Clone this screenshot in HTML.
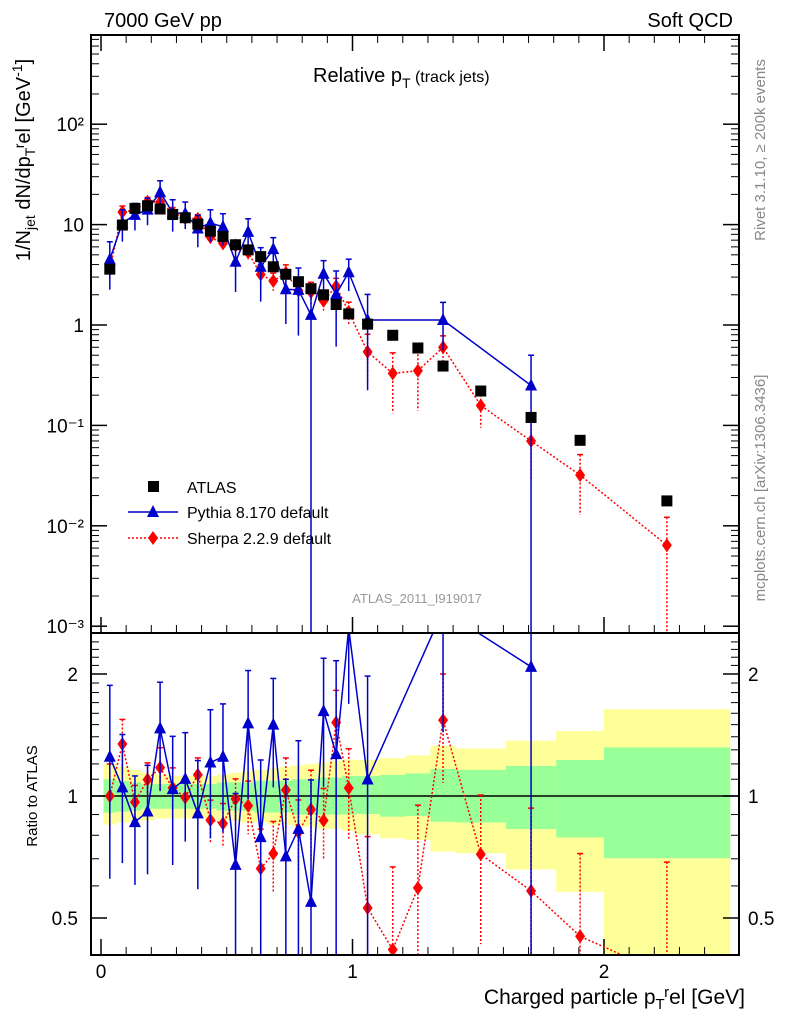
<!DOCTYPE html>
<html><head><meta charset="utf-8">
<style>
html,body{margin:0;padding:0;background:#fff;overflow:hidden;}
svg{display:block;}
svg text{font-family:"Liberation Sans",sans-serif;}
</style></head>
<body>
<svg id="c" width="786" height="1024" xmlns="http://www.w3.org/2000/svg">
<defs>
<clipPath id="mainclip"><rect x="91" y="36" width="648" height="596"/></clipPath>
<clipPath id="ratclip"><rect x="91" y="634" width="648" height="320"/></clipPath>
</defs>
<g id="ratbands" clip-path="url(#ratclip)"></g>
<g id="grid"></g>
<g id="mainmarks" clip-path="url(#mainclip)"></g>
<g id="ratmarks" clip-path="url(#ratclip)"></g>
<rect x="91" y="35" width="648" height="598" fill="none" stroke="#000" stroke-width="2"/>
<rect x="91" y="633" width="648" height="322" fill="none" stroke="#000" stroke-width="2"/>
<text x="104" y="27" font-size="20">7000 GeV pp</text>
<text x="733" y="27" font-size="20" text-anchor="end">Soft QCD</text>
<text x="313" y="82" font-size="20">Relative p<tspan font-size="14" dy="6">T</tspan><tspan font-size="16" dy="-6"> (track jets)</tspan></text>
<text x="417" y="603" font-size="13" fill="#999" text-anchor="middle">ATLAS_2011_I919017</text>
<text transform="translate(765,150) rotate(-90)" font-size="15" fill="#888" text-anchor="middle">Rivet 3.1.10, ≥ 200k events</text>
<text transform="translate(765,488) rotate(-90)" font-size="15" fill="#888" text-anchor="middle">mcplots.cern.ch [arXiv:1306.3436]</text>
<text transform="translate(30,160) rotate(-90)" font-size="20" text-anchor="middle">1/N<tspan font-size="14" dy="5">jet</tspan><tspan dy="-5"> dN/dp</tspan><tspan font-size="14" dy="5">T</tspan><tspan font-size="14" dy="-11">r</tspan><tspan dy="6">el [GeV</tspan><tspan font-size="14" dy="-8">-1</tspan><tspan dy="8">]</tspan></text>
<text transform="translate(37,796) rotate(-90)" font-size="15" text-anchor="middle">Ratio to ATLAS</text>
<text x="745" y="1004" font-size="21" text-anchor="end">Charged particle p<tspan font-size="15" dy="5">T</tspan><tspan font-size="15" dy="-12">r</tspan><tspan dy="7">el [GeV]</tspan></text>
<g>
<rect x="148" y="481" width="11" height="11" fill="#000"/>
<text x="187" y="493" font-size="16">ATLAS</text>
<line x1="128" y1="512" x2="178" y2="512" stroke="#00c" stroke-width="1.5"/>
<polygon points="153,505 159,517 147,517" fill="#00c"/>
<text x="187" y="518" font-size="16">Pythia 8.170 default</text>
<line x1="128" y1="538" x2="178" y2="538" stroke="#f00" stroke-width="1.5" stroke-dasharray="2,2"/>
<polygon points="153,531 158,538 153,545 148,538" fill="#f00"/>
<text x="187" y="544" font-size="16">Sherpa 2.2.9 default</text>
</g>
</svg>
<script>
const xCenters=[0.035,0.085,0.135,0.185,0.235,0.285,0.335,0.385,0.435,0.485,0.535,0.585,0.635,0.685,0.735,0.785,0.835,0.885,0.935,0.985,1.06,1.16,1.26,1.36,1.51,1.71,1.905,2.25];
const binEdges=[0.01,0.06,0.11,0.16,0.21,0.26,0.31,0.36,0.41,0.46,0.51,0.56,0.61,0.66,0.71,0.76,0.81,0.86,0.91,0.96,1.01,1.11,1.21,1.31,1.41,1.61,1.81,2.0,2.5];
const atlasVals=[3.6,9.9,14.5,15.4,14.3,12.6,11.7,10.1,8.6,7.6,6.3,5.6,4.8,3.8,3.2,2.7,2.3,2.0,1.6,1.29,1.02,0.79,0.59,0.39,0.22,0.12,0.071,0.0177];
const bandYelUp=[1.2,1.18,1.16,1.14,1.13,1.12,1.12,1.12,1.12,1.13,1.14,1.15,1.16,1.17,1.18,1.19,1.2,1.21,1.22,1.23,1.227,1.24,1.26,1.33,1.31,1.37,1.447,1.637];
const bandYelLo=[0.85,0.86,0.87,0.87,0.88,0.88,0.88,0.88,0.88,0.87,0.87,0.86,0.86,0.85,0.85,0.84,0.84,0.83,0.83,0.82,0.804,0.786,0.779,0.729,0.722,0.659,0.58,0.35];
const bandGrnUp=[1.1,1.09,1.08,1.07,1.07,1.07,1.07,1.07,1.07,1.08,1.08,1.08,1.09,1.09,1.09,1.1,1.1,1.11,1.11,1.12,1.12,1.127,1.137,1.166,1.16,1.186,1.227,1.318];
const bandGrnLo=[0.91,0.915,0.92,0.93,0.93,0.93,0.93,0.93,0.93,0.92,0.92,0.92,0.91,0.91,0.91,0.9,0.9,0.9,0.9,0.9,0.903,0.889,0.893,0.864,0.86,0.829,0.79,0.702];
const pythiaX=[0.035,0.085,0.135,0.185,0.235,0.285,0.335,0.385,0.435,0.485,0.535,0.585,0.635,0.685,0.735,0.785,0.835,0.885,0.935,0.985,1.06,1.36,1.71];
const pythiaVals=[4.5,10.4,12.5,14.1,21,13.1,12.9,9.15,10.4,9.5,4.26,8.46,3.8,5.7,2.27,2.24,1.26,3.24,2.03,3.35,1.12,1.12,0.25];
const pythiaAtlas=[3.6,9.9,14.5,15.4,14.3,12.6,11.7,10.1,8.6,7.6,6.3,5.6,4.8,3.8,3.2,2.7,2.3,2.0,1.6,1.29,1.02,0.39,0.12];
const pythiaErr=[0.5,0.35,0.3,0.3,0.3,0.35,0.3,0.35,0.35,0.35,0.5,0.35,0.55,0.3,0.55,0.65,1.0,0.35,0.7,0.35,0.8,0.5,1.0];
const sherpaVals=[3.6,13.3,14.0,16.9,16.8,13.2,11.6,11.4,7.5,6.5,6.2,5.3,3.18,2.74,3.31,2.2,2.13,1.74,2.43,1.35,0.54,0.33,0.35,0.60,0.158,0.07,0.032,0.0064];
const sherpaErr=[0.2,0.15,0.1,0.1,0.12,0.12,0.1,0.1,0.12,0.12,0.12,0.15,0.25,0.2,0.2,0.2,0.25,0.2,0.2,0.25,0.5,0.6,0.6,0.3,0.4,0.6,0.6,0.9];
const mainTickExp=[-3,-2,-1,0,1,2];
const mainTickLabels=["10\u207B\u00B3","10\u207B\u00B2","10\u207B\u00B9","1","10","10\u00B2"];
const ratioTicks=[0.5,1,2];
const ratioTickLabels=["0.5","1","2"];
const xTicks=[0,1,2];
const xTickLabels=["0","1","2"];

const NS="http://www.w3.org/2000/svg";
function X(v){return 101+251.5*v;}
function Y(v){return 325-100.4*Math.log10(v);}
function R(r){return 796-122*Math.log2(r);}
function mk(tag,attrs,parent){const e=document.createElementNS(NS,tag);for(const k in attrs)e.setAttribute(k,attrs[k]);parent.appendChild(e);return e;}
const grid=document.getElementById('grid'),mm=document.getElementById('mainmarks'),rm=document.getElementById('ratmarks'),rb=document.getElementById('ratbands');

for(let i=0;i<atlasVals.length;i++){
  const x1=X(binEdges[i]),x2=X(binEdges[i+1]);
  const yu=Math.max(634,R(bandYelUp[i])),yl=Math.min(954,R(bandYelLo[i]));
  let e=mk('rect',{x:x1,y:yu,width:x2-x1+0.5,height:yl-yu,fill:'#ffff99'},rb);
  
  
  e=mk('rect',{x:x1,y:R(bandGrnUp[i]),width:x2-x1+0.5,height:R(bandGrnLo[i])-R(bandGrnUp[i]),fill:'#99ff99'},rb);
  
  
}
let l=mk('line',{x1:91,x2:739,y1:R(1),y2:R(1),stroke:'#000','stroke-width':1.5},rb);



mainTickExp.forEach((ex,i)=>{
  const y=Y(Math.pow(10,ex));
  mk('line',{x1:91,x2:107,y1:y,y2:y,stroke:'#000','stroke-width':1.5},grid);
  mk('line',{x1:739,x2:723,y1:y,y2:y,stroke:'#000','stroke-width':1.5},grid);
  const t=mk('text',{x:84,y:y+7,'font-size':19,'text-anchor':'end'},grid);
  t.textContent=mainTickLabels[i];
  
  
  for(let m=2;m<10;m++){const v=m*Math.pow(10,ex);const yy=Y(v);if(yy<36)continue;
    mk('line',{x1:91,x2:99,y1:yy,y2:yy,stroke:'#000'},grid);mk('line',{x1:739,x2:731,y1:yy,y2:yy,stroke:'#000'},grid);}
});
ratioTicks.forEach((r,i)=>{
  const y=R(r);
  mk('line',{x1:91,x2:107,y1:y,y2:y,stroke:'#000','stroke-width':1.5},grid);
  mk('line',{x1:739,x2:723,y1:y,y2:y,stroke:'#000','stroke-width':1.5},grid);
  let t=mk('text',{x:78,y:y+7,'font-size':19,'text-anchor':'end'},grid);
  t.textContent=ratioTickLabels[i];
  
  
  t=mk('text',{x:748,y:y+7,'font-size':19},grid);
  t.textContent=ratioTickLabels[i];
  
  
});
for(let r=0.5;r<=2.5;r+=0.1){const y=R(r);if(y<634||y>954)continue;
  mk('line',{x1:91,x2:99,y1:y,y2:y,stroke:'#000'},grid);mk('line',{x1:739,x2:731,y1:y,y2:y,stroke:'#000'},grid);}
for(let v=0;v<=2.5;v+=0.1){const x=X(v);const big=Math.abs(v-Math.round(v))<1e-6;const h=big?16:8;
  mk('line',{x1:x,x2:x,y1:955,y2:955-h,stroke:'#000','stroke-width':big?1.5:1},grid);
  mk('line',{x1:x,x2:x,y1:633,y2:633-h,stroke:'#000','stroke-width':big?1.5:1},grid);
  mk('line',{x1:x,x2:x,y1:35,y2:35+h,stroke:'#000','stroke-width':big?1.5:1},grid);}
xTicks.forEach((v,i)=>{const t=mk('text',{x:X(v),y:978,'font-size':19,'text-anchor':'middle'},grid);
  t.textContent=xTickLabels[i];
  
  });

function clampY(v,lo,hi){return Math.max(lo,Math.min(hi,v));}
function series(xs,vals,errs,color,dash,shape,g,yf,lo,hi,name){
  const pts=xs.map((x,i)=>X(x)+','+clampY(yf(vals[i]),lo-50,hi+50)).join(' ');
  const pl=mk('polyline',{points:pts,fill:'none',stroke:color,'stroke-width':1.5,'stroke-dasharray':dash},g);
  
  
  xs.forEach((x,i)=>{
    const v=vals[i],e=errs[i];const px=X(x);
    const yt=clampY(yf(v*(1+e)),lo-5,hi+5);
    const yb=e>=1?hi+5:clampY(yf(v*(1-e)),lo-5,hi+5);
    const b=mk('line',{x1:px,x2:px,y1:yt,y2:yb,stroke:color,'stroke-width':1.5,'stroke-dasharray':dash},g);
    
    
    mk('line',{x1:px-3,x2:px+3,y1:yt,y2:yt,stroke:color,'stroke-width':1.5},g);
    const py=clampY(yf(v),lo-20,hi+20);let m;
    if(shape==='tri')m=mk('polygon',{points:`${px},${py-7} ${px+6},${py+5} ${px-6},${py+5}`,fill:color},g);
    else m=mk('polygon',{points:`${px},${py-7} ${px+5},${py} ${px},${py+7} ${px-5},${py}`,fill:color},g);
    
    
  });
}
series(xCenters,sherpaVals,sherpaErr,'#f00','2,2','dia',mm,Y,36,632,'sherpa');
series(pythiaX,pythiaVals,pythiaErr,'#00c','none','tri',mm,Y,36,632,'pythia');
xCenters.forEach((x,i)=>{const s=mk('rect',{x:X(x)-5.5,y:Y(atlasVals[i])-5.5,width:11,height:11,fill:'#000'},mm);
  
  });
const sherpaRatio=sherpaVals.map((v,i)=>v/atlasVals[i]);
const pythiaRatio=pythiaVals.map((v,i)=>v/pythiaAtlas[i]);
series(xCenters,sherpaRatio,sherpaErr,'#f00','2,2','dia',rm,R,634,954,'sherpa-ratio');
series(pythiaX,pythiaRatio,pythiaErr,'#00c','none','tri',rm,R,634,954,'pythia-ratio');
</script>
</body></html>
